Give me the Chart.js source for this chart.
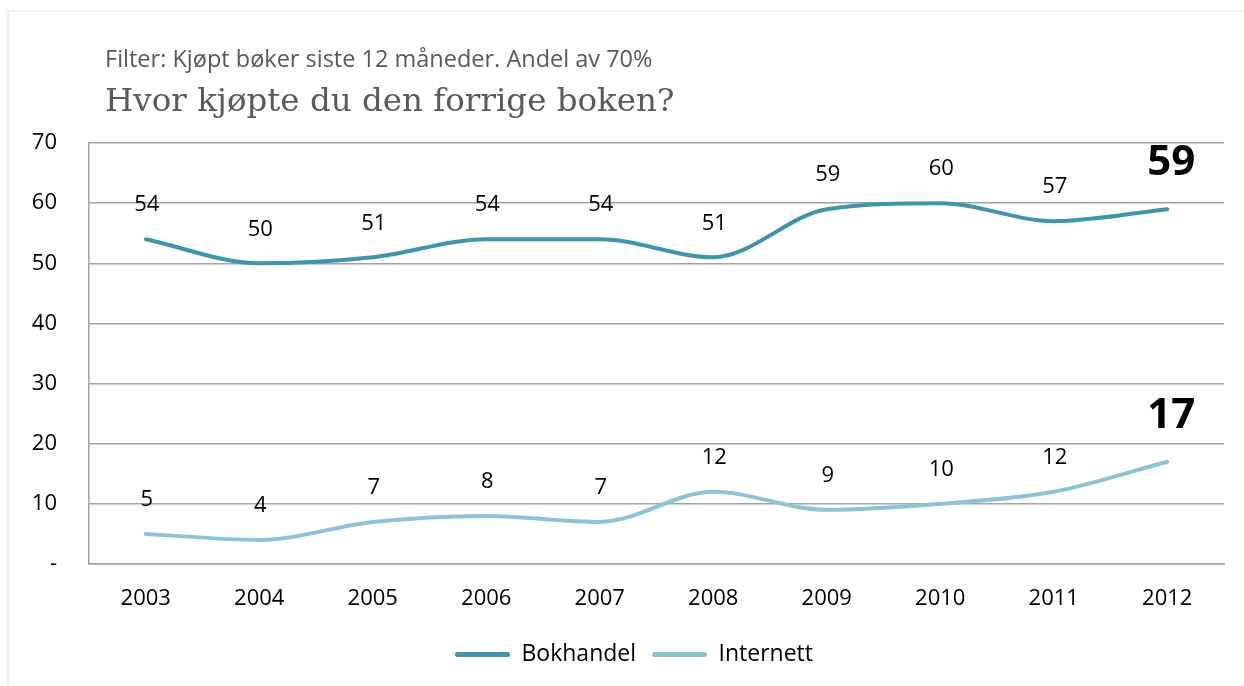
<!DOCTYPE html>
<html>
<head>
<meta charset="utf-8">
<script src="https://cdn.jsdelivr.net/npm/chart.js@4/dist/chart.umd.min.js"></script>
<style>
  html, body { margin: 0; padding: 0; background: #ffffff; }
  #wrap { position: relative; width: 1244px; height: 686px; overflow: hidden; }
  #frame { position: absolute; left: 7px; top: 10px; width: 1300px; height: 800px;
           border-left: 2px solid #eeede5; border-top: 2px solid #eeede5; }
  #sub { position: absolute; left: 105px; top: 43px; font-family: "Open Sans", sans-serif;
         font-size: 23.5px; color: #595959; white-space: nowrap; line-height: 30px; }
  #title { position: absolute; left: 105px; top: 78px; font-family: "DejaVu Serif", serif;
           font-size: 32.5px; color: #5a5a5a; white-space: nowrap; line-height: 44px; }
  canvas { position: absolute; left: 0; top: 0; }
</style>
</head>
<body>
<div id="wrap">
  <div id="frame"></div>
  <canvas id="c" width="1244" height="686"></canvas>
  <div id="sub">Filter: Kjøpt bøker siste 12 måneder. Andel av 70%</div>
  <div id="title">Hvor kjøpte du den forrige boken?</div>
</div>
<script>
const years = ["2003","2004","2005","2006","2007","2008","2009","2010","2011","2012"];
const bokhandel = [54, 50, 51, 54, 54, 51, 59, 60, 57, 59];
const internett = [5, 4, 7, 8, 7, 12, 9, 10, 12, 17];
const seriesNames = ["Bokhandel", "Internett"];
const yTicks = [0, 10, 20, 30, 40, 50, 60, 70];

const FONT = '"Open Sans", sans-serif';

const labelPlugin = {
  id: 'valueLabels',
  afterDatasetsDraw(chart) {
    const ctx = chart.ctx;
    ctx.save();
    ctx.textAlign = 'center';
    ctx.textBaseline = 'middle';
    ctx.fillStyle = '#000000';
    chart.data.datasets.forEach((ds, di) => {
      const meta = chart.getDatasetMeta(di);
      meta.data.forEach((pt, i) => {
        const last = i === ds.data.length - 1;
        if (last) {
          ctx.font = 'bold 42px ' + FONT;
          ctx.fillText(String(ds.data[i]), pt.x + 4, pt.y - 46);
        } else {
          ctx.font = '22px ' + FONT;
          ctx.fillText(String(ds.data[i]), pt.x + 1, pt.y - 34);
        }
      });
    });
    ctx.restore();
  }
};

// shift the legend so it is centred where the reference has it
const legendShift = {
  id: 'legendShift',
  afterLayout(chart) {
    if (chart.legend) {
      chart.legend.left += 22;
      chart.legend.right += 22;
    }
  }
};

new Chart(document.getElementById('c'), {
  type: 'line',
  data: {
    labels: years,
    datasets: [
      { label: seriesNames[0], data: bokhandel, borderColor: '#3f95ab', backgroundColor: '#3f95ab',
        borderWidth: 4, pointRadius: 0, cubicInterpolationMode: 'monotone', borderCapStyle: 'round', borderJoinStyle: 'round' },
      { label: seriesNames[1], data: internett, borderColor: '#8fc2d5', backgroundColor: '#8fc2d5',
        borderWidth: 4, pointRadius: 0, cubicInterpolationMode: 'monotone', borderCapStyle: 'round', borderJoinStyle: 'round' }
    ]
  },
  options: {
    responsive: false,
    animation: false,
    events: [],
    layout: { padding: { top: 143, right: 20, bottom: 10, left: 0 } },
    plugins: {
      title: { display: false },
      tooltip: { enabled: false },
      legend: {
        display: true,
        position: 'bottom',
        labels: {
          boxWidth: 55,
          boxHeight: 5,
          useBorderRadius: true,
          borderRadius: 2.5,
          padding: 16,
          color: '#000000',
          font: { family: FONT, size: 23 },
          generateLabels(chart) {
            const items = Chart.defaults.plugins.legend.labels.generateLabels(chart);
            items.forEach(it => { it.lineWidth = 0; });
            return items;
          }
        }
      }
    },
    scales: {
      x: {
        offset: true,
        grid: { display: false, drawTicks: false },
        border: { display: true, color: '#a3a3a3', width: 1.5 },
        ticks: { color: '#000000', font: { family: FONT, size: 22 }, padding: 22, maxRotation: 0 },
        afterFit(scale) { scale.height = 63; }
      },
      y: {
        min: 0, max: 70,
        afterBuildTicks(scale) { scale.ticks = yTicks.map(v => ({ value: v })); },
        grid: { color: '#a3a3a3', lineWidth: 1.5, drawTicks: false },
        border: { display: true, color: '#a3a3a3', width: 1.5 },
        ticks: {
          color: '#000000', font: { family: FONT, size: 22 }, padding: 32,
          callback: (v) => v === 0 ? '-' : String(v)
        },
        afterFit(scale) { scale.width = 89; }
      }
    }
  },
  plugins: [labelPlugin, legendShift]
});
</script>
</body>
</html>
